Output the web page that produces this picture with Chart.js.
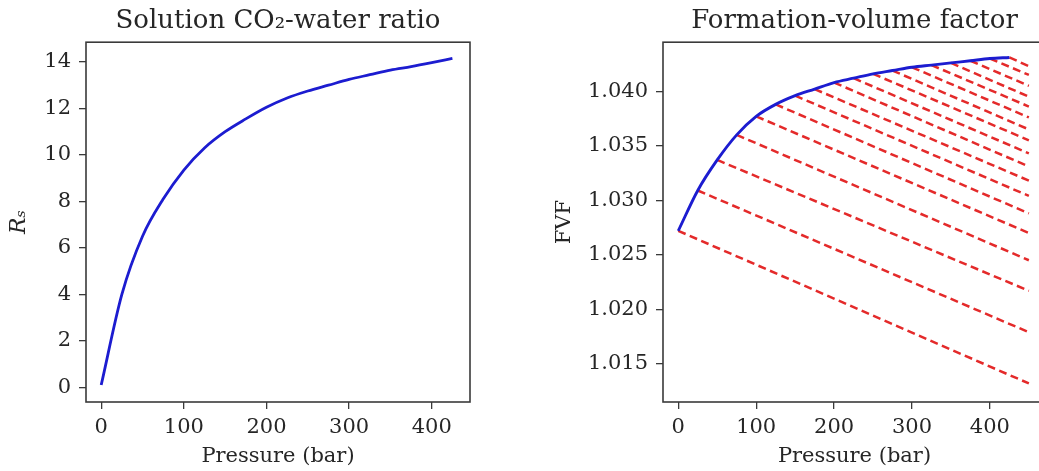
<!DOCTYPE html>
<html>
<head>
<meta charset="utf-8">
<script src="https://cdn.jsdelivr.net/npm/chart.js@4.4.0/dist/chart.umd.min.js"></script>
<style>
  html, body { margin: 0; padding: 0; background: #fff; overflow: hidden; }
  #left { position: absolute; left: 0; top: 0; width: 520px; height: 471px; }
  #right { position: absolute; left: 530px; top: 0; width: 530px; height: 471px; }
</style>
</head>
<body>
<div id="left"><canvas id="rsChart"></canvas></div>
<div id="right"><canvas id="fvfChart"></canvas></div>
<script>
// saturation pressures (bar)
var pressure = [0, 25, 50, 75, 100, 125, 150, 175, 200, 225, 250, 275, 300, 325, 350, 375, 400, 425]
// solution CO2-water ratio
var rsValues = [0.1, 4.0, 6.5, 8.1, 9.35, 10.3, 11.0, 11.55, 12.05, 12.45, 12.75, 13.0, 13.25, 13.45, 13.65, 13.8, 13.97, 14.15]
// formation-volume factor at saturation
var fvfValues = [1.0272, 1.0309, 1.0337, 1.0360, 1.0377, 1.0388, 1.0396, 1.0402, 1.0408, 1.0412, 1.0416, 1.0419, 1.0422, 1.0424, 1.0426, 1.0428, 1.0430, 1.0431]
// undersaturated branches end here
var dashEndPressure = 450
var dashEndFvf = [1.0132, 1.0179, 1.0217, 1.0245, 1.0270, 1.0288, 1.0304, 1.0318, 1.0331, 1.0343, 1.0355, 1.0365, 1.0376, 1.0386, 1.0395, 1.0405, 1.0415, 1.0423]

var pressureTicks = [0, 100, 200, 300, 400]
var rsTicks = [0, 2, 4, 6, 8, 10, 12, 14]
var fvfTicks = [1.015, 1.020, 1.025, 1.030, 1.035, 1.040]

var serif = "'DejaVu Serif', serif"
var ink = '#262626'

var framePlugin = {
    id: 'frame',
    afterDatasetsDraw: function (chart) {
        var a = chart.chartArea, c = chart.ctx
        c.save()
        c.strokeStyle = '#3a3a3a'
        c.lineWidth = 1.6
        c.strokeRect(a.left, a.top, a.right - a.left, a.bottom - a.top)
        c.restore()
    }
}

function setTicks(list) {
    return function (scale) {
        scale.ticks = list.map(function (v) { return { value: v } })
    }
}

function axisGrid() {
    return { drawOnChartArea: false, drawTicks: true, tickLength: 7, color: '#3a3a3a', lineWidth: 1.3 }
}

function chartTitle(text) {
    return {
        display: true,
        text: text,
        fullSize: false,
        color: ink,
        font: { family: serif, size: 26, weight: 'normal' },
        padding: { top: 6, bottom: 5 }
    }
}

// left: Rs vs pressure
var rsPoints = pressure.map(function (p, i) { return { x: p, y: rsValues[i] } })

var ctx1 = document.getElementById('rsChart').getContext('2d');
var rsChart = new Chart(ctx1, {
    type: 'line',
    data: {
        datasets: [{
            data: rsPoints,
            borderColor: '#1c1cd0',
            borderWidth: 2.8,
            pointRadius: 0,
            cubicInterpolationMode: 'monotone',
            fill: false
        }]
    },
    options: {
        animation: false,
        responsive: true,
        maintainAspectRatio: false,
        layout: { padding: { left: 0, right: 50, top: 0, bottom: 0 } },
        plugins: {
            legend: { display: false },
            tooltip: { enabled: false },
            title: chartTitle('Solution CO₂-water ratio')
        },
        scales: {
            x: {
                type: 'linear',
                min: -18.4,
                max: 446.3,
                afterBuildTicks: setTicks(pressureTicks),
                afterFit: function (s) { s.height = 69 },
                grid: axisGrid(),
                border: { display: false },
                ticks: { color: ink, font: { family: serif, size: 21 }, padding: 6, maxRotation: 0 },
                title: { display: true, text: 'Pressure (bar)', color: ink, font: { family: serif, size: 21 }, padding: { top: 0, bottom: 2 } }
            },
            y: {
                type: 'linear',
                min: -0.63,
                max: 14.85,
                afterBuildTicks: setTicks(rsTicks),
                afterFit: function (s) { s.width = 86 },
                grid: axisGrid(),
                border: { display: false },
                ticks: { color: ink, font: { family: serif, size: 21 }, padding: 8 },
                title: { display: true, text: 'Rₛ', color: ink, font: { family: serif, size: 22, style: 'italic' }, padding: { top: 6, bottom: 0 } }
            }
        }
    },
    plugins: [framePlugin]
});

// right: FVF with undersaturated branches
var fvfSets = [{
    data: pressure.map(function (p, i) { return { x: p, y: fvfValues[i] } }),
    borderColor: '#1c1cd0',
    borderWidth: 2.9,
    pointRadius: 0,
    cubicInterpolationMode: 'monotone',
    fill: false
}]
for (var i = 0; i < pressure.length; i++) {
    fvfSets.push({
        data: [{ x: pressure[i], y: fvfValues[i] }, { x: dashEndPressure, y: dashEndFvf[i] }],
        borderColor: '#e42a2a',
        borderWidth: 2.5,
        borderDash: [8, 4.5],
        pointRadius: 0,
        fill: false
    })
}

var ctx2 = document.getElementById('fvfChart').getContext('2d');
var fvfChart = new Chart(ctx2, {
    type: 'line',
    data: { datasets: fvfSets },
    options: {
        animation: false,
        responsive: true,
        maintainAspectRatio: false,
        layout: { padding: { left: 0, right: 14, top: 0, bottom: 0 } },
        plugins: {
            legend: { display: false },
            tooltip: { enabled: false },
            title: chartTitle('Formation-volume factor')
        },
        scales: {
            x: {
                type: 'linear',
                min: -19.6,
                max: 472,
                afterBuildTicks: setTicks(pressureTicks),
                afterFit: function (s) { s.height = 69 },
                grid: axisGrid(),
                border: { display: false },
                ticks: { color: ink, font: { family: serif, size: 21 }, padding: 6, maxRotation: 0 },
                title: { display: true, text: 'Pressure (bar)', color: ink, font: { family: serif, size: 21 }, padding: { top: 0, bottom: 2 } }
            },
            y: {
                type: 'linear',
                min: 1.0115,
                max: 1.0445,
                afterBuildTicks: setTicks(fvfTicks),
                afterFit: function (s) { s.width = 133 },
                grid: axisGrid(),
                border: { display: false },
                ticks: {
                    color: ink, font: { family: serif, size: 21 }, padding: 8,
                    callback: function (v) { return v.toFixed(3) }
                },
                title: { display: true, text: 'FVF', color: ink, font: { family: serif, size: 21 }, padding: { top: 22, bottom: 0 } }
            }
        }
    },
    plugins: [framePlugin]
});
</script>
</body>
</html>
